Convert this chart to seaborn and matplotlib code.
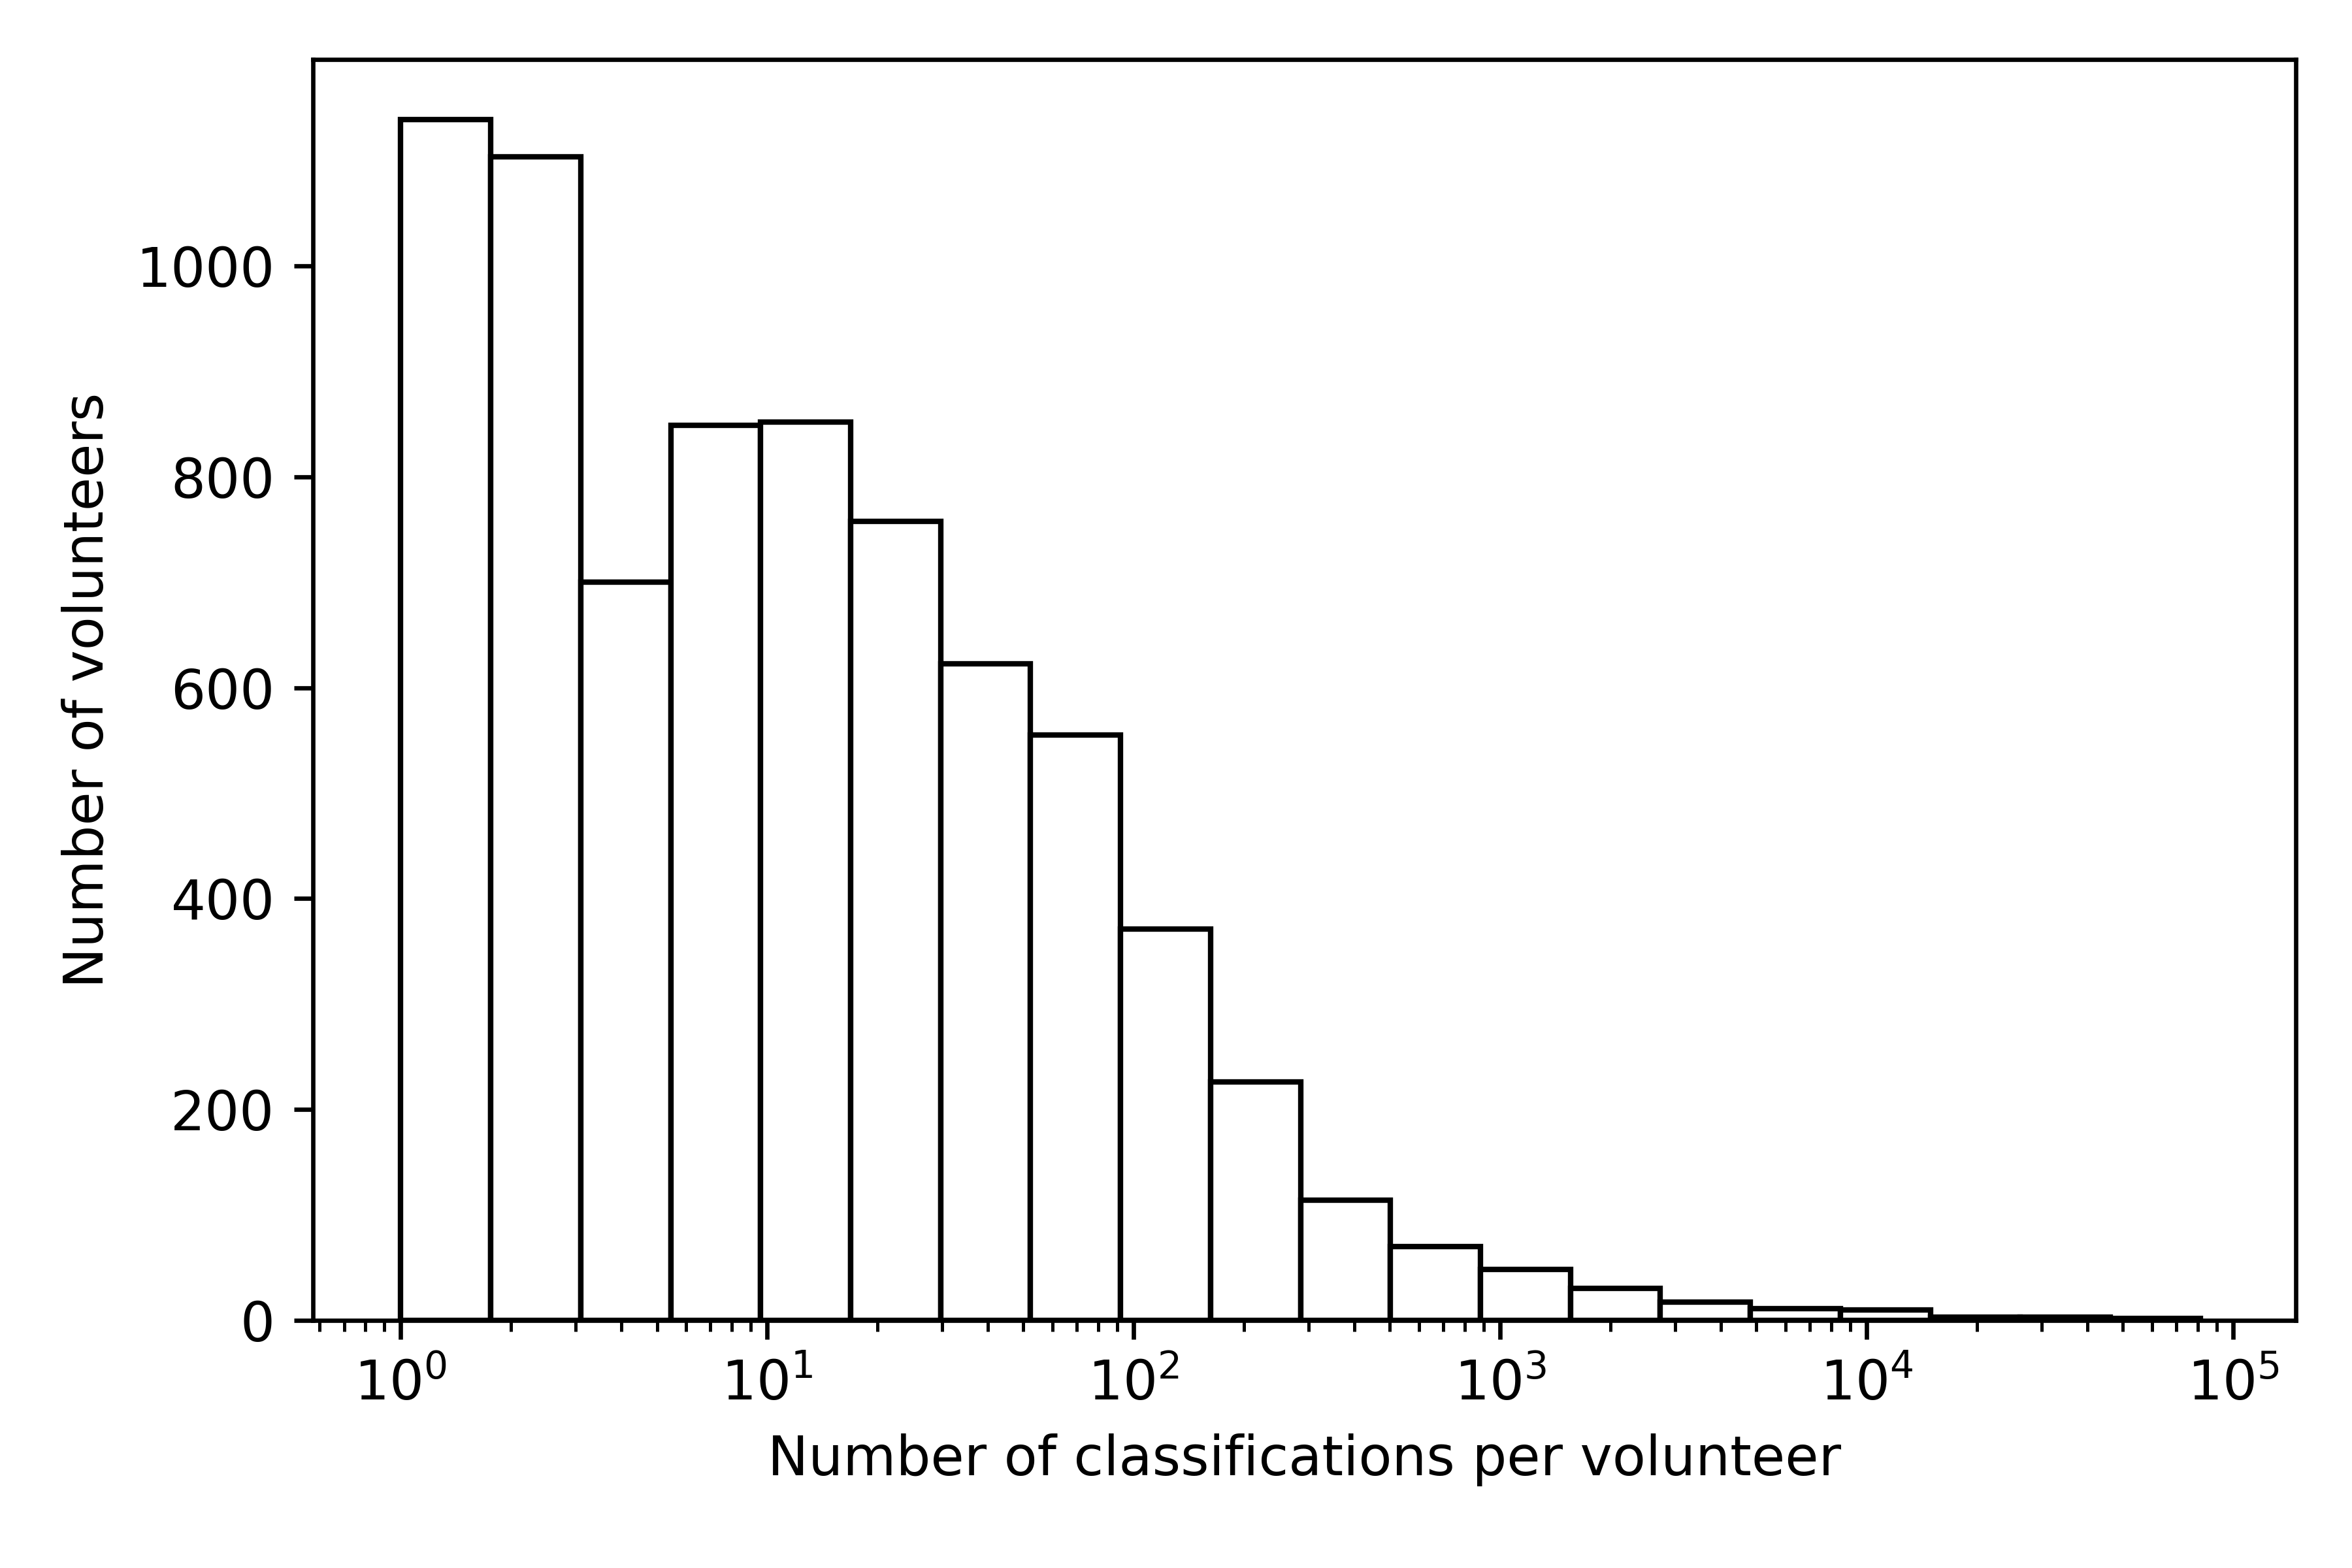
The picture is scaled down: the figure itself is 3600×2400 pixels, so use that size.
import numpy as np
import pandas as pd
import seaborn as sns
import matplotlib.pyplot as plt

# Histogram counts (20 log-spaced bins from 1 to ~81000)
log_min = 0.0
log_max = 4.91
n_bins = 20
counts = [1139, 1104, 700, 849, 852, 758, 623, 555, 371, 226,
          114, 70, 48, 30, 17, 11, 10, 3, 3, 2]

# One representative value per bin (the bin's geometric centre), weighted by its count
log_edges = np.linspace(log_min, log_max, n_bins + 1)
centres = 10 ** ((log_edges[:-1] + log_edges[1:]) / 2)
df = pd.DataFrame({'classifications': centres, 'volunteers': counts})

# Plain matplotlib look (black text and spines)
plt.rcParams['font.family'] = ['DejaVu Sans']

fig, ax = plt.subplots(figsize=(6, 4))
sns.histplot(data=df, x='classifications', weights='volunteers',
             bins=n_bins, binrange=(log_min, log_max), log_scale=True,
             color='white', edgecolor='black', linewidth=1.0, alpha=1.0, ax=ax)

ax.set_xlabel('Number of classifications per volunteer')
ax.set_ylabel('Number of volunteers')
ax.set_xlim(10 ** -0.24, 10 ** 5.17)

plt.subplots_adjust(left=0.133, right=0.976, top=0.962, bottom=0.158)
plt.savefig('out.png', dpi=600)
